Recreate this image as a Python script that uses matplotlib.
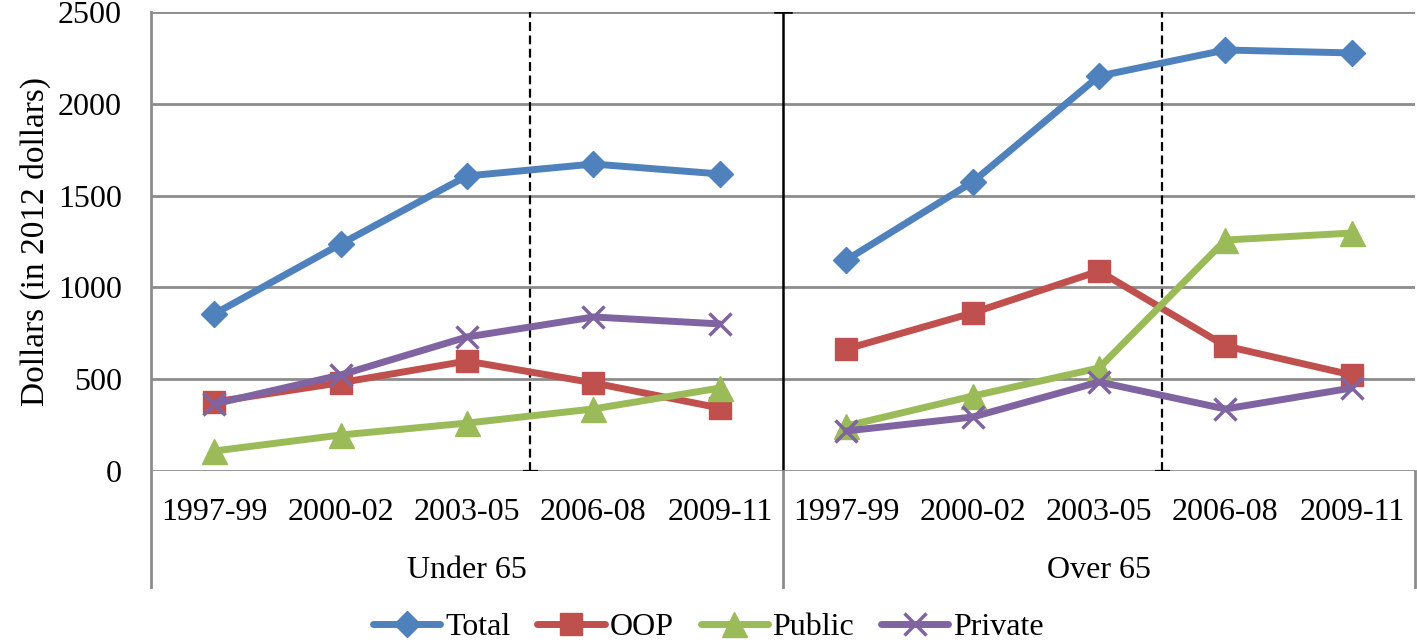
import numpy as np
import matplotlib.pyplot as plt
from matplotlib.transforms import blended_transform_factory

plt.rcParams['font.family'] = ['Liberation Serif', 'DejaVu Serif']

periods = ['1997-99', '2000-02', '2003-05', '2006-08', '2009-11']
groups = ['Under 65', 'Over 65']

# values per group: (under 65, over 65)
total = [[855, 1236, 1607, 1672, 1618], [1149, 1574, 2151, 2293, 2277]]
oop = [[376, 481, 599, 480, 343], [664, 861, 1089, 681, 523]]
public = [[109, 196, 261, 338, 452], [245, 408, 561, 1258, 1296]]
private = [[365, 523, 730, 839, 801], [218, 294, 485, 338, 452]]

series = [('Total', total, '#4F81BD', 'D', 13),
          ('OOP', oop, '#C0504D', 's', 16),
          ('Public', public, '#9BBB59', '^', 18),
          ('Private', private, '#8064A2', 'x', 16)]

fs = 23
fig = plt.figure(figsize=(14.17, 6.44), dpi=100)
W, H = 1417, 644
ax = fig.add_axes([151 / W, (H - 471) / H, (1415 - 151) / W, 459 / H])

gray = '#8C8C8C'
n = len(periods)
for name, vals, col, mk, ms in series:
    for g in range(2):
        x = np.arange(n) + g * n
        ax.plot(x, vals[g], color=col, lw=5, marker=mk, ms=ms,
                mew=2.5 if mk == 'x' else 1, mec=col, mfc=col,
                solid_capstyle='round', solid_joinstyle='round',
                label=name if g == 0 else None, zorder=3)

ax.set_xlim(-0.5, 2 * n - 0.5)
ax.set_ylim(0, 2500)
ax.set_yticks(np.arange(0, 2501, 500))
ax.yaxis.grid(True, color=gray, lw=2)
ax.set_axisbelow(True)
ax.set_xticks([])
ax.tick_params(axis='y', length=0, pad=21, labelsize=fs)
for s in ax.spines.values():
    s.set_visible(False)
ax.set_ylabel('Dollars (in 2012 dollars)', fontsize=24, labelpad=5)

# period dividers
for xd in [2.5, 7.5]:
    ax.plot([xd, xd], [0, 2500], color='black', lw=1.6, ls=(0, (4, 2)), zorder=2)
    ax.plot([xd - 0.05, xd + 0.05], [0, 0], color='black', lw=1.6, zorder=2)
ax.plot([4.5, 4.5], [0, 2500], color='black', lw=1.8, zorder=2)
ax.plot([4.44, 4.56], [2500, 2500], color='black', lw=1.8, zorder=2)

# category axis boxes
tr = blended_transform_factory(ax.transData, ax.transAxes)
low = -116 / 459
for xb, y0 in [(-0.5, 1.0), (4.5, 0.0), (9.5, 0.0)]:
    ax.plot([xb, xb], [y0, low], color=gray, lw=2, transform=tr, clip_on=False)
for i in range(2 * n):
    ax.text(i, -42 / 459, periods[i % n], transform=tr, ha='center', va='center',
            fontsize=fs)
for g, name in enumerate(groups):
    ax.text(g * n + 2, -99 / 459, name, transform=tr, ha='center', va='center',
            fontsize=fs)

fig.legend(loc='center', bbox_to_anchor=(0.5, 17 / H), ncol=4, frameon=False,
           fontsize=fs, handlelength=2.1, handletextpad=0.15, columnspacing=0.85)

fig.savefig('out.png', dpi=100)
